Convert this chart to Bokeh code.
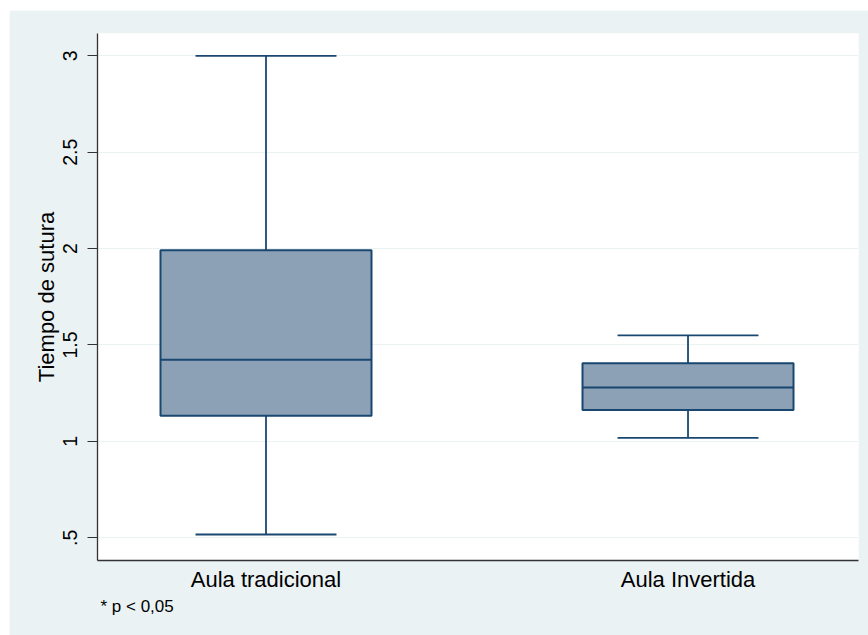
from bokeh.plotting import figure
from bokeh.models import Range1d, FixedTicker, Title
from bokeh.embed import file_html
from bokeh.resources import INLINE

# ---- data ----
categories = ["Aula tradicional", "Aula Invertida"]
positions = [1, 2]
lower_whisker = [0.517, 1.018]
q1 = [1.133, 1.163]
median = [1.424, 1.279]
q3 = [1.991, 1.405]
upper_whisker = [3.0, 1.550]
y_ticks = [0.5, 1, 1.5, 2, 2.5, 3]
y_tick_labels = [".5", "1", "1.5", "2", "2.5", "3"]
note_text = "* p < 0,05"
y_title = "Tiempo de sutura"

# ---- style ----
FONT = "Liberation Sans"
BG = "#EAF2F3"
FILL = "#8CA1B6"
LINE = "#1A476F"
BOX_W = 0.5
CAP_W = 0.334
X_START, X_END = 0.6007, 2.404
Y_START, Y_END = 0.382, 3.116

p = figure(width=859, height=625,
           x_range=Range1d(X_START, X_END), y_range=Range1d(Y_START, Y_END),
           output_backend="svg", toolbar_location=None,
           min_border_left=88, min_border_right=10,
           min_border_top=23, min_border_bottom=75,
           background_fill_color="white", border_fill_color=BG,
           outline_line_color=None,
           styles={"margin-left": "9px", "margin-top": "10px"})

p.xgrid.visible = False
p.ygrid.grid_line_color = BG
p.ygrid.grid_line_width = 1.2

# y axis
p.yaxis.ticker = FixedTicker(ticks=y_ticks)
p.yaxis.major_label_overrides = {t: s for t, s in zip(y_ticks, y_tick_labels)}
p.yaxis.major_label_orientation = "vertical"
p.yaxis.major_label_text_font = FONT
p.yaxis.major_label_text_font_size = "19.5px"
p.yaxis.major_label_text_color = "#000000"
p.yaxis.major_label_standoff = 10
p.yaxis.major_tick_out = 10
p.yaxis.major_tick_in = 0
p.yaxis.major_tick_line_color = "#333333"
p.yaxis.minor_tick_line_color = None
p.yaxis.axis_line_color = "#333333"
p.yaxis.axis_line_width = 1.3
p.yaxis.axis_label = y_title
p.yaxis.axis_label_text_font = FONT
p.yaxis.axis_label_text_font_size = "22px"
p.yaxis.axis_label_text_font_style = "normal"
p.yaxis.axis_label_text_color = "#000000"
p.yaxis.axis_label_standoff = 2

# x axis
p.xaxis.ticker = FixedTicker(ticks=positions)
p.xaxis.major_label_overrides = {x: c for x, c in zip(positions, categories)}
p.xaxis.major_label_text_font = FONT
p.xaxis.major_label_text_font_size = "22px"
p.xaxis.major_label_text_color = "#000000"
p.xaxis.major_label_standoff = 6
p.xaxis.major_tick_out = 0
p.xaxis.major_tick_in = 0
p.xaxis.major_tick_line_color = None
p.xaxis.minor_tick_line_color = None
p.xaxis.axis_line_color = "#333333"
p.xaxis.axis_line_width = 1.3

# whiskers
p.segment(x0=positions, y0=q3, x1=positions, y1=upper_whisker,
          line_color=LINE, line_width=1.8)
p.segment(x0=positions, y0=q1, x1=positions, y1=lower_whisker,
          line_color=LINE, line_width=1.8)
# caps
cap_x0 = [x - CAP_W / 2 for x in positions]
cap_x1 = [x + CAP_W / 2 for x in positions]
p.segment(x0=cap_x0, y0=upper_whisker, x1=cap_x1, y1=upper_whisker,
          line_color=LINE, line_width=1.8)
p.segment(x0=cap_x0, y0=lower_whisker, x1=cap_x1, y1=lower_whisker,
          line_color=LINE, line_width=1.8)
# boxes
p.vbar(x=positions, width=BOX_W, bottom=q1, top=q3,
       fill_color=FILL, line_color=LINE, line_width=2)
# medians
box_x0 = [x - BOX_W / 2 for x in positions]
box_x1 = [x + BOX_W / 2 for x in positions]
p.segment(x0=box_x0, y0=median, x1=box_x1, y1=median,
          line_color=LINE, line_width=2)

# note below the axis, left-aligned with the plot region
p.add_layout(Title(text=note_text, align="left", offset=3,
                   text_font=FONT, text_font_size="17px",
                   text_font_style="normal", text_color="#000000",
                   standoff=0), "below")

open("out.html", "w").write(file_html(p, INLINE))
